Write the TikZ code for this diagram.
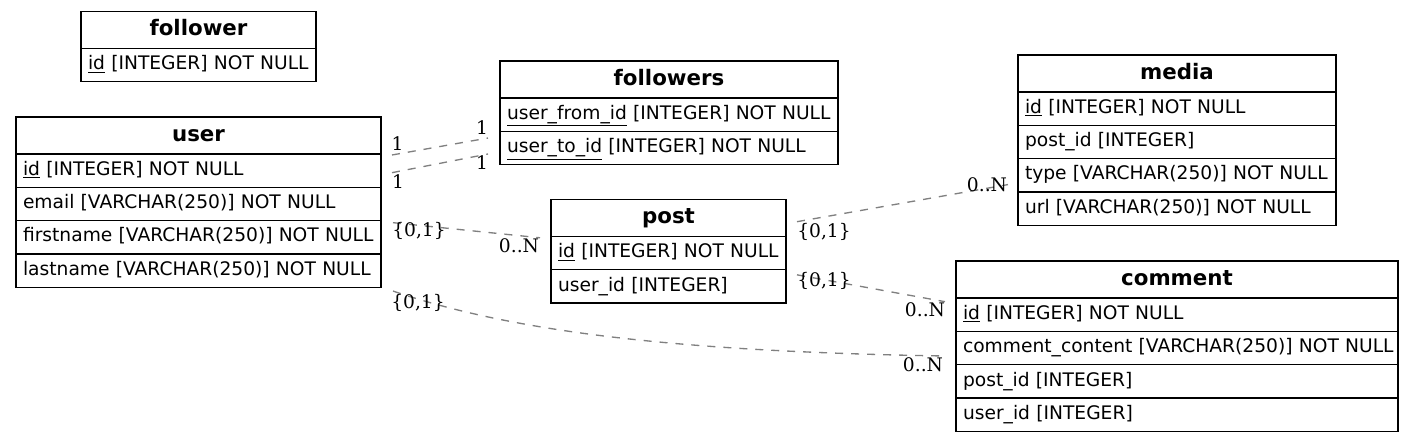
\documentclass[tikz,border=0pt]{standalone}
\usepackage{fontspec}
\setmainfont{DejaVu Sans}
\newfontfamily\lblfont{DejaVu Serif}
\usetikzlibrary{positioning}
\tikzset{head/.style={draw, line width=1pt, outer sep=0pt, inner ysep=0pt, minimum width=#1,
    minimum height=27.75pt, text height=12pt, text depth=3.5pt, font=\fontsize{16}{19}\selectfont\bfseries}}
\tikzset{row/.style={draw, line width=1pt, outer sep=0pt, inner xsep=5.25pt, inner ysep=0pt,
    minimum height=25pt, text width=#1-10.5pt, align=left, text height=10.5pt, text depth=3.5pt,
    font=\fontsize{14}{17}\selectfont,
    execute at begin node={\hbox\bgroup}, execute at end node={\egroup}}}
\tikzstyle{rel}=[draw=gray, line width=1pt, dash pattern=on 6pt off 6pt]
\tikzstyle{card}=[inner sep=0pt, font=\lblfont\fontsize{14}{17}\selectfont]
\newcommand{\pk}[1]{\underline{#1}}

\begin{document}
\begin{tikzpicture}[x=0.75pt, y=-0.75pt]
    \useasboundingbox (0,0) rectangle (1415,442);

    % follower
    \node[head=176.25pt, anchor=north west] (follower) at (81,11.5) {follower};
    \node[row=176.25pt, below=0pt of follower] (follower-id) {\pk{id} [INTEGER] NOT NULL};
    % user
    \node[head=273.75pt, anchor=north west] (user) at (16,117) {user};
    \node[row=273.75pt, below=0pt of user] (user-id) {\pk{id} [INTEGER] NOT NULL};
    \node[row=273.75pt, below=0pt of user-id] (user-email) {email [VARCHAR(250)] NOT NULL};
    \node[row=273.75pt, below=0pt of user-email] (user-first) {firstname [VARCHAR(250)] NOT NULL};
    \node[row=273.75pt, below=0pt of user-first] (user-last) {lastname [VARCHAR(250)] NOT NULL};
    % followers
    \node[head=253.5pt, anchor=north west] (followers) at (500,61) {followers};
    \node[row=253.5pt, below=0pt of followers] (followers-from) {\pk{user\_from\_id} [INTEGER] NOT NULL};
    \node[row=253.5pt, below=0pt of followers-from] (followers-to) {\pk{user\_to\_id} [INTEGER] NOT NULL};
    % post
    \node[head=176.25pt, anchor=north west] (post) at (551,199.5) {post};
    \node[row=176.25pt, below=0pt of post] (post-id) {\pk{id} [INTEGER] NOT NULL};
    \node[row=176.25pt, below=0pt of post-id] (post-user) {user\_id [INTEGER]};
    % media
    \node[head=238.5pt, anchor=north west] (media) at (1018,55) {media};
    \node[row=238.5pt, below=0pt of media] (media-id) {\pk{id} [INTEGER] NOT NULL};
    \node[row=238.5pt, below=0pt of media-id] (media-post) {post\_id [INTEGER]};
    \node[row=238.5pt, below=0pt of media-post] (media-type) {type [VARCHAR(250)] NOT NULL};
    \node[row=238.5pt, below=0pt of media-type] (media-url) {url [VARCHAR(250)] NOT NULL};
    % comment
    \node[head=331.5pt, anchor=north west] (comment) at (956,261) {comment};
    \node[row=331.5pt, below=0pt of comment] (comment-id) {\pk{id} [INTEGER] NOT NULL};
    \node[row=331.5pt, below=0pt of comment-id] (comment-content) {comment\_content [VARCHAR(250)] NOT NULL};
    \node[row=331.5pt, below=0pt of comment-content] (comment-post) {post\_id [INTEGER]};
    \node[row=331.5pt, below=0pt of comment-post] (comment-user) {user\_id [INTEGER]};

    % relations
    \draw[rel] ([shift={(11,1)}]user-id.north east)
        -- ([shift={(-12,6.7)}]followers-from.south west)
        node[card, pos=0, shift={(5.5,-11)}] (r1-tail) {1}
        node[card, pos=1, shift={(-6,-10.5)}] (r1-head) {1};
    \draw[rel] ([shift={(11,2)}]user-id.east)
        -- ([shift={(-12,6)}]followers-to.west)
        node[card, pos=0, shift={(6,9.3)}] (r2-tail) {1}
        node[card, pos=1, shift={(-6,9)}] (r2-head) {1};
    \draw[rel] ([shift={(12,2)}]user-first.north east)
        -- ([shift={(-11,1.3)}]post-id.north west)
        node[card, pos=0, shift={(26,8.3)}] (r3-tail) {\{0,1\}}
        node[card, pos=1, shift={(-21,8)}] (r3-head) {0..N};
    \draw[rel] ([shift={(11,3.7)}]post.east)
        -- ([shift={(-10,9.25)}]media-type.west)
        node[card, pos=0, shift={(27,10)}] (r4-tail) {\{0,1\}}
        node[card, pos=1, shift={(-21,0)}] (r4-head) {0..N};
    \draw[rel] ([shift={(11,5)}]post-user.north east)
        -- ([shift={(-11,3.7)}]comment.south west)
        node[card, pos=0, shift={(27,6)}] (r5-tail) {\{0,1\}}
        node[card, pos=1, shift={(-20,8)}] (r5-head) {0..N};
    \draw[rel] ([shift={(12,3.7)}]user-last.south east)
        .. controls +(128,44) and +(-245,-4) .. ([shift={(-11,8)}]comment-content.west)
        node[card, pos=0, shift={(25,12)}] (r6-tail) {\{0,1\}}
        node[card, pos=1, shift={(-22,9)}] (r6-head) {0..N};

\end{tikzpicture}
\end{document}
